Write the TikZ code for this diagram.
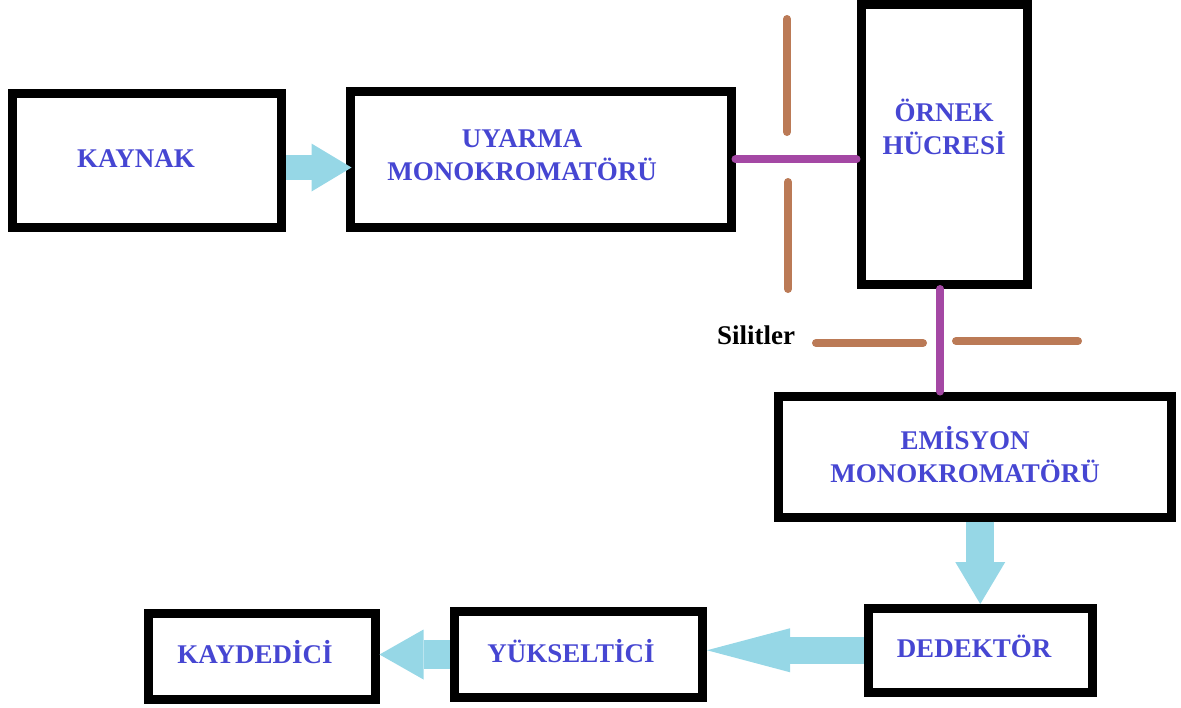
\documentclass[tikz,border=0pt]{standalone}
\usepackage{fontspec}
\setmainfont{Liberation Serif}
\usetikzlibrary{arrows.meta}
\definecolor{yazimavi}{RGB}{70,70,210}
\definecolor{okmavi}{RGB}{150,215,230}
\definecolor{kahve}{RGB}{187,122,86}
\definecolor{mor}{RGB}{164,72,164}

\begin{document}
\begin{tikzpicture}[x=0.5pt, y=-0.5pt,
kutu/.style={draw, line width=4.5pt, inner sep=0pt},
yazi/.style={text=yazimavi, font=\fontsize{13.5}{16.5}\selectfont\bfseries, align=center, anchor=base},
ok/.style={draw=okmavi, line width=#1},
ok/.default=13.5pt,
yarik/.style={draw=kahve, line width=4pt, line cap=round},
isik/.style={draw=mor, line width=4pt, line cap=round}]

    \useasboundingbox (0,0) rectangle (1181,707);

    % kutular
    \node[kutu, minimum width=134.75pt, minimum height=67pt] (kaynak) at (146.75,160.5) {};
    \node[kutu, minimum width=190.5pt, minimum height=67.75pt] (uyarma) at (540.5,159.25) {};
    \node[kutu, minimum width=83.25pt, minimum height=140.25pt] (ornek) at (944.25,144.25) {};
    \node[kutu, minimum width=196.25pt, minimum height=60.5pt] (emisyon) at (974.75,456.5) {};
    \node[kutu, minimum width=112.25pt, minimum height=41.75pt] (dedektor) at (980.25,650.25) {};
    \node[kutu, minimum width=124.25pt, minimum height=43pt] (yukseltici) at (578.25,654.5) {};
    \node[kutu, minimum width=113.25pt, minimum height=42.75pt] (kaydedici) at (261.75,656.25) {};

    % yazilar (iki satirlilarda base = alt satir)
    \node[yazi] (kaynakyazi) at (136,167) {KAYNAK};
    \node[yazi] (uyarmayazi) at (522,180) {UYARMA\\MONOKROMATÖRÜ};
    \node[yazi] (ornekyazi) at (944,154) {ÖRNEK\\HÜCRESİ};
    \node[yazi] (emisyonyazi) at (965,482) {EMİSYON\\MONOKROMATÖRÜ};
    \node[yazi] (dedektoryazi) at (974,657) {DEDEKTÖR};
    \node[yazi] (yukselticiyazi) at (571,662) {YÜKSELTİCİ};
    \node[yazi] (kaydediciyazi) at (255,663) {KAYDEDİCİ};
    \node[font=\fontsize{13.5}{16.5}\selectfont\bfseries, anchor=base] (silitler) at (756,344) {Silitler};

    % oklar
    \coordinate (ok1) at ([yshift=-3.5pt]kaynak.east);
    \draw[ok=12.5pt, -{Triangle[width=24pt, length=20pt, line width=0pt]}, shorten >=-3pt] (ok1) -- (ok1 -| uyarma.west);
    \draw[ok=14pt, -{Triangle[width=25pt, length=21pt, line width=0pt]}] (emisyon.south -| dedektor.north) -- (dedektor.north);
    \draw[ok=13.5pt, -{Triangle[width=22pt, length=41.5pt, line width=0pt]}] (dedektor.west) -- (dedektor.west -| yukseltici.east);
    \draw[ok=14.5pt, -{Triangle[width=25pt, length=22pt, line width=0pt]}] (yukseltici.west) -- (yukseltici.west -| kaydedici.east);

    % silitler
    \draw[yarik] (787,19) -- (787,132);
    \draw[yarik] (788,182) -- (788,289);
    \draw[yarik] (816,343) -- (923,343);
    \draw[yarik] (956,341) -- (1078,341);

    % isik yolu
    \draw[isik] (uyarma.east) -- (uyarma.east -| ornek.west);
    \coordinate (ornekalt) at ([xshift=-2pt]ornek.south);
    \draw[isik] (ornekalt) -- (ornekalt |- emisyon.north);

\end{tikzpicture}
\end{document}
